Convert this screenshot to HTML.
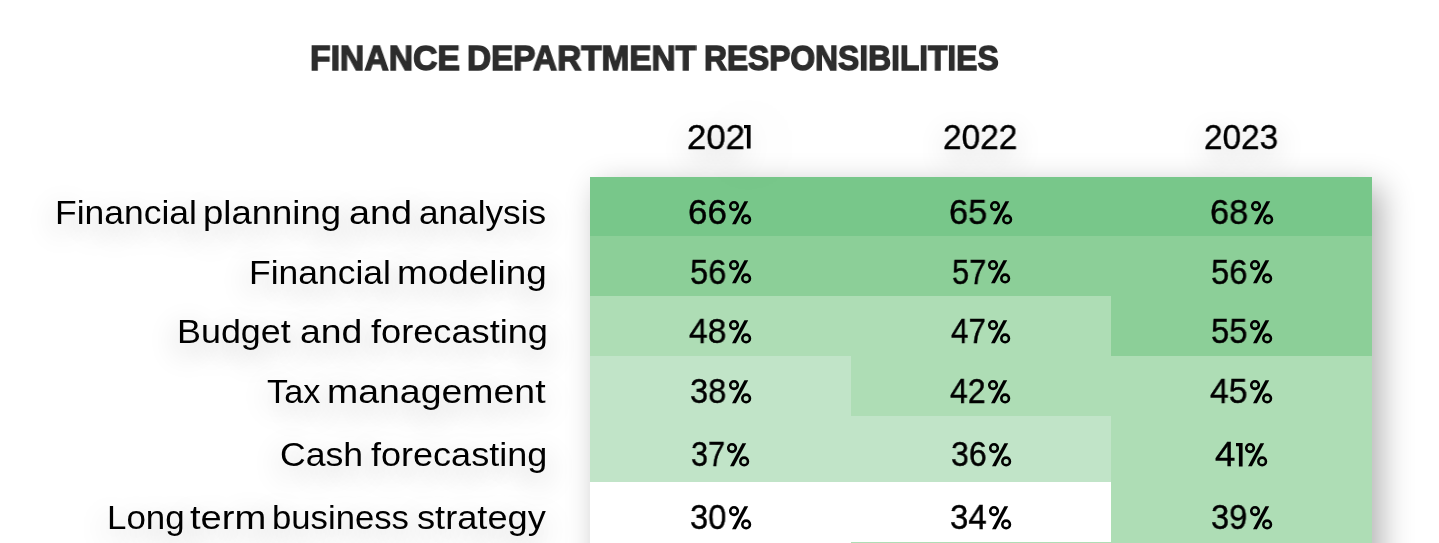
<!DOCTYPE html>
<html>
<head>
<meta charset="utf-8">
<title>Finance Department Responsibilities</title>
<style>
html,body{margin:0;padding:0;}
body{width:1439px;height:543px;overflow:hidden;background:#fff;position:relative;font-family:"Liberation Sans",sans-serif;color:#000;}
.t{position:absolute;white-space:nowrap;line-height:1;transform-origin:0 0;will-change:transform;}
.c{position:absolute;}
.p{position:absolute;overflow:visible;}
</style>
</head>
<body>
<div class="t" style="left:309.67px;top:39.80px;font-weight:bold;font-size:35px;color:#2d2d2d;transform:scaleX(0.9634);letter-spacing:0px;-webkit-text-stroke:1.4px #2d2d2d">FINANCE</div>
<div class="t" style="left:467.20px;top:39.80px;font-weight:bold;font-size:35px;color:#2d2d2d;transform:scaleX(0.9523);letter-spacing:0px;-webkit-text-stroke:1.4px #2d2d2d">DEPARTMENT</div>
<div class="t" style="left:703.79px;top:39.80px;font-weight:bold;font-size:35px;color:#2d2d2d;transform:scaleX(0.9071);letter-spacing:0px;-webkit-text-stroke:1.4px #2d2d2d">RESPONSIBILITIES</div>
<div class="t" style="left:54.88px;top:195.60px;font-weight:normal;font-size:33px;color:#000;transform:scaleX(1.0740);text-shadow:0 9px 30px rgba(0,0,0,0.32)">Financial</div>
<div class="t" style="left:202.79px;top:195.60px;font-weight:normal;font-size:33px;color:#000;transform:scaleX(1.1058);text-shadow:0 9px 30px rgba(0,0,0,0.32)">planning</div>
<div class="t" style="left:349.35px;top:195.60px;font-weight:normal;font-size:33px;color:#000;transform:scaleX(1.1462);text-shadow:0 9px 30px rgba(0,0,0,0.32)">and</div>
<div class="t" style="left:419.33px;top:195.60px;font-weight:normal;font-size:33px;color:#000;transform:scaleX(1.0658);text-shadow:0 9px 30px rgba(0,0,0,0.32)">analysis</div>
<div class="t" style="left:248.58px;top:255.70px;font-weight:normal;font-size:33px;color:#000;transform:scaleX(1.0740);text-shadow:0 9px 30px rgba(0,0,0,0.32)">Financial</div>
<div class="t" style="left:397.16px;top:255.70px;font-weight:normal;font-size:33px;color:#000;transform:scaleX(1.1185);text-shadow:0 9px 30px rgba(0,0,0,0.32)">modeling</div>
<div class="t" style="left:177.34px;top:315.20px;font-weight:normal;font-size:33px;color:#000;transform:scaleX(1.0873);text-shadow:0 9px 30px rgba(0,0,0,0.32)">Budget</div>
<div class="t" style="left:300.07px;top:315.20px;font-weight:normal;font-size:33px;color:#000;transform:scaleX(1.1327);text-shadow:0 9px 30px rgba(0,0,0,0.32)">and</div>
<div class="t" style="left:370.70px;top:315.20px;font-weight:normal;font-size:33px;color:#000;transform:scaleX(1.0962);text-shadow:0 9px 30px rgba(0,0,0,0.32)">forecasting</div>
<div class="t" style="left:267.06px;top:374.90px;font-weight:normal;font-size:33px;color:#000;transform:scaleX(1.0380);text-shadow:0 9px 30px rgba(0,0,0,0.32)">Tax</div>
<div class="t" style="left:327.23px;top:374.90px;font-weight:normal;font-size:33px;color:#000;transform:scaleX(1.1346);text-shadow:0 9px 30px rgba(0,0,0,0.32)">management</div>
<div class="t" style="left:279.54px;top:438.00px;font-weight:normal;font-size:33px;color:#000;transform:scaleX(1.0795);text-shadow:0 9px 30px rgba(0,0,0,0.32)">Cash</div>
<div class="t" style="left:371.20px;top:438.00px;font-weight:normal;font-size:33px;color:#000;transform:scaleX(1.0918);text-shadow:0 9px 30px rgba(0,0,0,0.32)">forecasting</div>
<div class="t" style="left:106.83px;top:500.80px;font-weight:normal;font-size:33px;color:#000;transform:scaleX(1.0574);text-shadow:0 9px 30px rgba(0,0,0,0.32)">Long</div>
<div class="t" style="left:190.14px;top:500.80px;font-weight:normal;font-size:33px;color:#000;transform:scaleX(1.1571);text-shadow:0 9px 30px rgba(0,0,0,0.32)">term</div>
<div class="t" style="left:272.40px;top:500.80px;font-weight:normal;font-size:33px;color:#000;transform:scaleX(1.0512);text-shadow:0 9px 30px rgba(0,0,0,0.32)">business</div>
<div class="t" style="left:417.20px;top:500.80px;font-weight:normal;font-size:33px;color:#000;transform:scaleX(1.0974);text-shadow:0 9px 30px rgba(0,0,0,0.32)">strategy</div>
<div class="t" style="left:686.52px;top:118.50px;font-weight:normal;font-size:35px;color:#000;transform:scaleX(0.9909);text-shadow:0 9px 30px rgba(0,0,0,0.32);-webkit-text-stroke:0.4px #000">202</div>
<div class="t" style="left:943.49px;top:118.50px;font-weight:normal;font-size:35px;color:#000;transform:scaleX(0.9533);text-shadow:0 9px 30px rgba(0,0,0,0.32);-webkit-text-stroke:0.4px #000">2022</div>
<div class="t" style="left:1204.10px;top:118.50px;font-weight:normal;font-size:35px;color:#000;transform:scaleX(0.9507);text-shadow:0 9px 30px rgba(0,0,0,0.32);-webkit-text-stroke:0.4px #000">2023</div>
<div class="c" style="left:590px;top:177px;width:782px;height:423px;box-shadow:9px 10px 30px rgba(0,0,0,0.31);background:#fff"></div>
<div class="c" style="left:590px;top:177px;width:261px;height:59px;background:#78c78a"></div>
<div class="c" style="left:851px;top:177px;width:260px;height:59px;background:#78c78a"></div>
<div class="c" style="left:1111px;top:177px;width:261px;height:59px;background:#78c78a"></div>
<div class="c" style="left:590px;top:236px;width:261px;height:60px;background:#8ccf98"></div>
<div class="c" style="left:851px;top:236px;width:260px;height:60px;background:#8ccf98"></div>
<div class="c" style="left:1111px;top:236px;width:261px;height:60px;background:#8ccf98"></div>
<div class="c" style="left:590px;top:296px;width:261px;height:60px;background:#aeddb5"></div>
<div class="c" style="left:851px;top:296px;width:260px;height:60px;background:#aeddb5"></div>
<div class="c" style="left:1111px;top:296px;width:261px;height:60px;background:#8ccf98"></div>
<div class="c" style="left:590px;top:356px;width:261px;height:60px;background:#c1e4c8"></div>
<div class="c" style="left:851px;top:356px;width:260px;height:60px;background:#aeddb5"></div>
<div class="c" style="left:1111px;top:356px;width:261px;height:60px;background:#aeddb5"></div>
<div class="c" style="left:590px;top:416px;width:261px;height:66px;background:#c1e4c8"></div>
<div class="c" style="left:851px;top:416px;width:260px;height:66px;background:#c1e4c8"></div>
<div class="c" style="left:1111px;top:416px;width:261px;height:66px;background:#aeddb5"></div>
<div class="c" style="left:590px;top:482px;width:261px;height:60px;background:#ffffff"></div>
<div class="c" style="left:851px;top:482px;width:260px;height:60px;background:#ffffff"></div>
<div class="c" style="left:1111px;top:482px;width:261px;height:60px;background:#aeddb5"></div>
<div class="c" style="left:590px;top:542px;width:261px;height:58px;background:#ffffff"></div>
<div class="c" style="left:851px;top:542px;width:260px;height:58px;background:#aeddb5"></div>
<div class="c" style="left:1111px;top:542px;width:261px;height:58px;background:#aeddb5"></div>
<div class="t" style="left:688.32px;top:194.00px;font-weight:normal;font-size:35px;color:#000;transform:scaleX(0.9917);-webkit-text-stroke:0.4px #000">66</div>
<div class="t" style="left:949.44px;top:194.00px;font-weight:normal;font-size:35px;color:#000;transform:scaleX(0.9806);-webkit-text-stroke:0.4px #000">65</div>
<div class="t" style="left:1210.04px;top:194.00px;font-weight:normal;font-size:35px;color:#000;transform:scaleX(0.9806);-webkit-text-stroke:0.4px #000">68</div>
<div class="t" style="left:689.97px;top:253.70px;font-weight:normal;font-size:35px;color:#000;transform:scaleX(0.9324);-webkit-text-stroke:0.4px #000">56</div>
<div class="t" style="left:951.62px;top:253.70px;font-weight:normal;font-size:35px;color:#000;transform:scaleX(0.8784);-webkit-text-stroke:0.4px #000">57</div>
<div class="t" style="left:1210.96px;top:253.70px;font-weight:normal;font-size:35px;color:#000;transform:scaleX(0.9351);-webkit-text-stroke:0.4px #000">56</div>
<div class="t" style="left:688.94px;top:313.20px;font-weight:normal;font-size:35px;color:#000;transform:scaleX(0.9595);-webkit-text-stroke:0.4px #000">48</div>
<div class="t" style="left:951.01px;top:313.20px;font-weight:normal;font-size:35px;color:#000;transform:scaleX(0.8946);-webkit-text-stroke:0.4px #000">47</div>
<div class="t" style="left:1210.96px;top:313.20px;font-weight:normal;font-size:35px;color:#000;transform:scaleX(0.9351);-webkit-text-stroke:0.4px #000">55</div>
<div class="t" style="left:689.97px;top:373.20px;font-weight:normal;font-size:35px;color:#000;transform:scaleX(0.9324);-webkit-text-stroke:0.4px #000">38</div>
<div class="t" style="left:950.29px;top:373.20px;font-weight:normal;font-size:35px;color:#000;transform:scaleX(0.9135);-webkit-text-stroke:0.4px #000">42</div>
<div class="t" style="left:1210.24px;top:373.20px;font-weight:normal;font-size:35px;color:#000;transform:scaleX(0.9622);-webkit-text-stroke:0.4px #000">45</div>
<div class="t" style="left:690.63px;top:436.00px;font-weight:normal;font-size:35px;color:#000;transform:scaleX(0.8730);-webkit-text-stroke:0.4px #000">37</div>
<div class="t" style="left:950.68px;top:436.00px;font-weight:normal;font-size:35px;color:#000;transform:scaleX(0.9162);-webkit-text-stroke:0.4px #000">36</div>
<div class="t" style="left:1215.16px;top:436.00px;font-weight:normal;font-size:35px;color:#000;transform:scaleX(1.0444);-webkit-text-stroke:0.4px #000">4</div>
<div class="t" style="left:689.97px;top:499.00px;font-weight:normal;font-size:35px;color:#000;transform:scaleX(0.9324);-webkit-text-stroke:0.4px #000">30</div>
<div class="t" style="left:950.16px;top:499.00px;font-weight:normal;font-size:35px;color:#000;transform:scaleX(0.9405);-webkit-text-stroke:0.4px #000">34</div>
<div class="t" style="left:1211.07px;top:499.00px;font-weight:normal;font-size:35px;color:#000;transform:scaleX(0.9297);-webkit-text-stroke:0.4px #000">39</div>
<svg class="p" style="left:729.30px;top:200.50px" width="22.2" height="23.5" viewBox="0 0 22.2 23.5"><circle cx="5.05" cy="5.1" r="3.8" fill="none" stroke="#000" stroke-width="2.6"/><circle cx="17.15" cy="18.40" r="3.8" fill="none" stroke="#000" stroke-width="2.6"/><polygon points="15.4,0.2 19.2,0.2 6.9,23.30 3.0,23.30" fill="#000"/></svg>
<svg class="p" style="left:990.00px;top:200.50px" width="22.2" height="23.5" viewBox="0 0 22.2 23.5"><circle cx="5.05" cy="5.1" r="3.8" fill="none" stroke="#000" stroke-width="2.6"/><circle cx="17.15" cy="18.40" r="3.8" fill="none" stroke="#000" stroke-width="2.6"/><polygon points="15.4,0.2 19.2,0.2 6.9,23.30 3.0,23.30" fill="#000"/></svg>
<svg class="p" style="left:1250.60px;top:200.50px" width="22.2" height="23.5" viewBox="0 0 22.2 23.5"><circle cx="5.05" cy="5.1" r="3.8" fill="none" stroke="#000" stroke-width="2.6"/><circle cx="17.15" cy="18.40" r="3.8" fill="none" stroke="#000" stroke-width="2.6"/><polygon points="15.4,0.2 19.2,0.2 6.9,23.30 3.0,23.30" fill="#000"/></svg>
<svg class="p" style="left:728.70px;top:260.20px" width="22.2" height="23.5" viewBox="0 0 22.2 23.5"><circle cx="5.05" cy="5.1" r="3.8" fill="none" stroke="#000" stroke-width="2.6"/><circle cx="17.15" cy="18.40" r="3.8" fill="none" stroke="#000" stroke-width="2.6"/><polygon points="15.4,0.2 19.2,0.2 6.9,23.30 3.0,23.30" fill="#000"/></svg>
<svg class="p" style="left:988.30px;top:260.20px" width="22.2" height="23.5" viewBox="0 0 22.2 23.5"><circle cx="5.05" cy="5.1" r="3.8" fill="none" stroke="#000" stroke-width="2.6"/><circle cx="17.15" cy="18.40" r="3.8" fill="none" stroke="#000" stroke-width="2.6"/><polygon points="15.4,0.2 19.2,0.2 6.9,23.30 3.0,23.30" fill="#000"/></svg>
<svg class="p" style="left:1249.80px;top:260.20px" width="22.2" height="23.5" viewBox="0 0 22.2 23.5"><circle cx="5.05" cy="5.1" r="3.8" fill="none" stroke="#000" stroke-width="2.6"/><circle cx="17.15" cy="18.40" r="3.8" fill="none" stroke="#000" stroke-width="2.6"/><polygon points="15.4,0.2 19.2,0.2 6.9,23.30 3.0,23.30" fill="#000"/></svg>
<svg class="p" style="left:728.70px;top:319.70px" width="22.2" height="23.5" viewBox="0 0 22.2 23.5"><circle cx="5.05" cy="5.1" r="3.8" fill="none" stroke="#000" stroke-width="2.6"/><circle cx="17.15" cy="18.40" r="3.8" fill="none" stroke="#000" stroke-width="2.6"/><polygon points="15.4,0.2 19.2,0.2 6.9,23.30 3.0,23.30" fill="#000"/></svg>
<svg class="p" style="left:988.30px;top:319.70px" width="22.2" height="23.5" viewBox="0 0 22.2 23.5"><circle cx="5.05" cy="5.1" r="3.8" fill="none" stroke="#000" stroke-width="2.6"/><circle cx="17.15" cy="18.40" r="3.8" fill="none" stroke="#000" stroke-width="2.6"/><polygon points="15.4,0.2 19.2,0.2 6.9,23.30 3.0,23.30" fill="#000"/></svg>
<svg class="p" style="left:1249.80px;top:319.70px" width="22.2" height="23.5" viewBox="0 0 22.2 23.5"><circle cx="5.05" cy="5.1" r="3.8" fill="none" stroke="#000" stroke-width="2.6"/><circle cx="17.15" cy="18.40" r="3.8" fill="none" stroke="#000" stroke-width="2.6"/><polygon points="15.4,0.2 19.2,0.2 6.9,23.30 3.0,23.30" fill="#000"/></svg>
<svg class="p" style="left:728.70px;top:379.70px" width="22.2" height="23.5" viewBox="0 0 22.2 23.5"><circle cx="5.05" cy="5.1" r="3.8" fill="none" stroke="#000" stroke-width="2.6"/><circle cx="17.15" cy="18.40" r="3.8" fill="none" stroke="#000" stroke-width="2.6"/><polygon points="15.4,0.2 19.2,0.2 6.9,23.30 3.0,23.30" fill="#000"/></svg>
<svg class="p" style="left:988.30px;top:379.70px" width="22.2" height="23.5" viewBox="0 0 22.2 23.5"><circle cx="5.05" cy="5.1" r="3.8" fill="none" stroke="#000" stroke-width="2.6"/><circle cx="17.15" cy="18.40" r="3.8" fill="none" stroke="#000" stroke-width="2.6"/><polygon points="15.4,0.2 19.2,0.2 6.9,23.30 3.0,23.30" fill="#000"/></svg>
<svg class="p" style="left:1250.10px;top:379.70px" width="22.2" height="23.5" viewBox="0 0 22.2 23.5"><circle cx="5.05" cy="5.1" r="3.8" fill="none" stroke="#000" stroke-width="2.6"/><circle cx="17.15" cy="18.40" r="3.8" fill="none" stroke="#000" stroke-width="2.6"/><polygon points="15.4,0.2 19.2,0.2 6.9,23.30 3.0,23.30" fill="#000"/></svg>
<svg class="p" style="left:727.10px;top:442.50px" width="22.2" height="23.5" viewBox="0 0 22.2 23.5"><circle cx="5.05" cy="5.1" r="3.8" fill="none" stroke="#000" stroke-width="2.6"/><circle cx="17.15" cy="18.40" r="3.8" fill="none" stroke="#000" stroke-width="2.6"/><polygon points="15.4,0.2 19.2,0.2 6.9,23.30 3.0,23.30" fill="#000"/></svg>
<svg class="p" style="left:988.80px;top:442.50px" width="22.2" height="23.5" viewBox="0 0 22.2 23.5"><circle cx="5.05" cy="5.1" r="3.8" fill="none" stroke="#000" stroke-width="2.6"/><circle cx="17.15" cy="18.40" r="3.8" fill="none" stroke="#000" stroke-width="2.6"/><polygon points="15.4,0.2 19.2,0.2 6.9,23.30 3.0,23.30" fill="#000"/></svg>
<svg class="p" style="left:1245.20px;top:442.50px" width="22.2" height="23.5" viewBox="0 0 22.2 23.5"><circle cx="5.05" cy="5.1" r="3.8" fill="none" stroke="#000" stroke-width="2.6"/><circle cx="17.15" cy="18.40" r="3.8" fill="none" stroke="#000" stroke-width="2.6"/><polygon points="15.4,0.2 19.2,0.2 6.9,23.30 3.0,23.30" fill="#000"/></svg>
<svg class="p" style="left:728.70px;top:505.50px" width="22.2" height="23.5" viewBox="0 0 22.2 23.5"><circle cx="5.05" cy="5.1" r="3.8" fill="none" stroke="#000" stroke-width="2.6"/><circle cx="17.15" cy="18.40" r="3.8" fill="none" stroke="#000" stroke-width="2.6"/><polygon points="15.4,0.2 19.2,0.2 6.9,23.30 3.0,23.30" fill="#000"/></svg>
<svg class="p" style="left:989.20px;top:505.50px" width="22.2" height="23.5" viewBox="0 0 22.2 23.5"><circle cx="5.05" cy="5.1" r="3.8" fill="none" stroke="#000" stroke-width="2.6"/><circle cx="17.15" cy="18.40" r="3.8" fill="none" stroke="#000" stroke-width="2.6"/><polygon points="15.4,0.2 19.2,0.2 6.9,23.30 3.0,23.30" fill="#000"/></svg>
<svg class="p" style="left:1249.70px;top:505.50px" width="22.2" height="23.5" viewBox="0 0 22.2 23.5"><circle cx="5.05" cy="5.1" r="3.8" fill="none" stroke="#000" stroke-width="2.6"/><circle cx="17.15" cy="18.40" r="3.8" fill="none" stroke="#000" stroke-width="2.6"/><polygon points="15.4,0.2 19.2,0.2 6.9,23.30 3.0,23.30" fill="#000"/></svg>
<svg class="p" style="left:744.00px;top:125.00px;filter:drop-shadow(0 9px 30px rgba(0,0,0,0.32))" width="6.6" height="23.5" viewBox="0 0 6.6 23.5"><path d="M0 0H6.6V23.5H2.90V3.2H0Z" fill="#000"/></svg>
<svg class="p" style="left:1236.20px;top:442.50px" width="6.6" height="23.5" viewBox="0 0 6.6 23.5"><path d="M0 0H6.6V23.5H2.90V3.2H0Z" fill="#000"/></svg>
</body>
</html>
